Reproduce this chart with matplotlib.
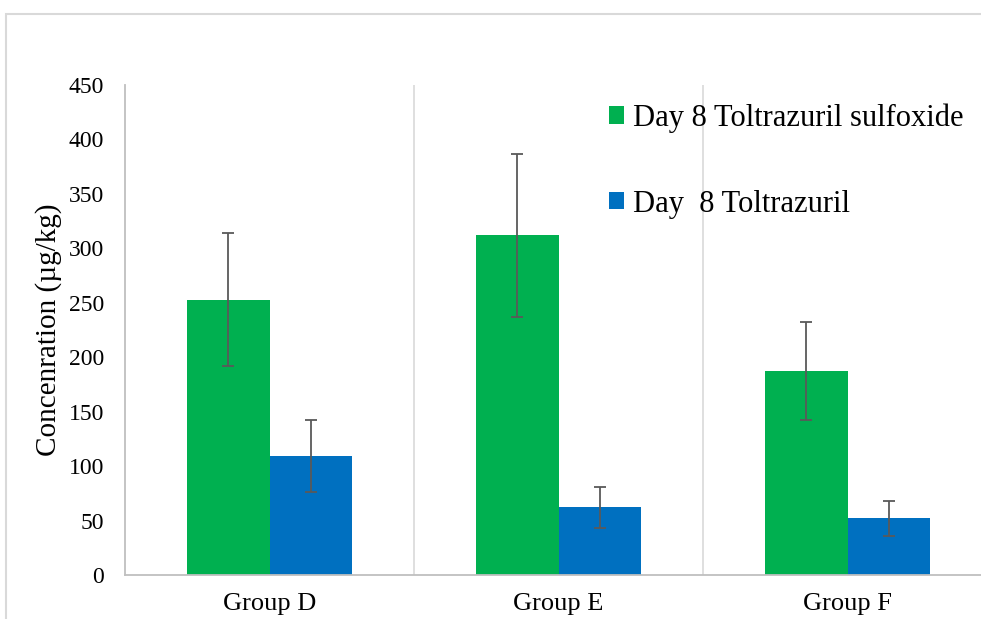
#!/usr/bin/env python3

import matplotlib
matplotlib.use("Agg")
from matplotlib import patches
from matplotlib.pyplot import figure, savefig, close
from numpy import arange

groups = ["Group D", "Group E", "Group F"]
series = ["Day 8 Toltrazuril sulfoxide", "Day  8 Toltrazuril"]
sulfoxide = [253, 312, 187]
sulfoxide_err = [61, 75, 45]
toltrazuril = [109, 62, 52]
toltrazuril_err = [33, 19, 16]
y_ticks = [0, 50, 100, 150, 200, 250, 300, 350, 400, 450]

colors = ["#00B050", "#0070C0"]


def main():
    fig = figure(figsize=(9.81, 6.19), dpi=100)
    fig.patches.append(patches.Rectangle(
        (6 / 981, -0.1), 1.2, 0.1 + (619 - 14) / 619,
        transform=fig.transFigure, fill=False, edgecolor="#d9d9d9", lw=1.5,
    ))
    ax = fig.add_axes([125 / 981, 44 / 619, 867 / 981, 490 / 619])
    x = arange(len(groups))
    width = 0.285
    err_kw = {"ecolor": "#595959", "elinewidth": 1.3, "capsize": 4, "capthick": 1.3}
    ax.bar(x - width / 2, sulfoxide, width, yerr=sulfoxide_err, color=colors[0],
           label=series[0], error_kw=err_kw, zorder=2)
    ax.bar(x + width / 2, toltrazuril, width, yerr=toltrazuril_err, color=colors[1],
           label=series[1], error_kw=err_kw, zorder=2)
    ax.set_xlim(-0.5, len(groups) - 0.5)
    ax.set_ylim(0, 450)
    ax.set_yticks(y_ticks)
    ax.set_xticks(x)
    ax.set_xticklabels(groups)
    for b in arange(0.5, len(groups) - 0.5, 1):
        ax.axvline(b, color="#d9d9d9", lw=1.2, zorder=1)
    for side in ["top", "right"]:
        ax.spines[side].set_visible(False)
    for side in ["left", "bottom"]:
        ax.spines[side].set_color("#bfbfbf")
        ax.spines[side].set_linewidth(1.3)
    ax.tick_params(axis="both", length=0, labelsize=17, pad=15,
                   labelfontfamily="Liberation Serif")
    ax.tick_params(axis="x", pad=13, labelsize=19)
    ax.set_ylabel("Concenration (µg/kg)", family="Liberation Serif", size=21,
                  labelpad=5)
    fig.legend(
        loc="upper left",
        bbox_to_anchor=(581 / 981, 1 - 76 / 619),
        frameon=False,
        prop={"family": "Liberation Serif", "size": 22},
        handlelength=0.5,
        handleheight=0.5,
        handletextpad=0.3,
        labelspacing=1.85,
    )
    savefig("out.png", dpi=100)
    close()


if __name__ == "__main__":
    main()
